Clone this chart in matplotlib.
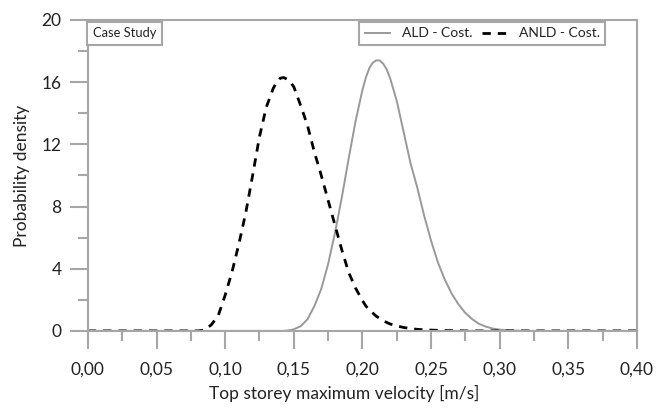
import numpy as np
import matplotlib.pyplot as plt
from matplotlib.ticker import MultipleLocator, FuncFormatter

plt.rcParams['font.family'] = ['Lato', 'DejaVu Sans']

# velocity grid [m/s] and density values for both designs
velocity = [0.000, 0.050, 0.080, 0.085, 0.090, 0.095, 0.100, 0.105, 0.110, 0.115,
            0.120, 0.125, 0.130, 0.135, 0.1375, 0.140, 0.1425, 0.145, 0.1475, 0.150,
            0.155, 0.160, 0.165, 0.170, 0.175, 0.180, 0.185, 0.190, 0.195, 0.200,
            0.2025, 0.205, 0.2075, 0.210, 0.2125, 0.215, 0.2175, 0.220, 0.225, 0.230,
            0.235, 0.240, 0.245, 0.250, 0.255, 0.260, 0.265, 0.270, 0.275, 0.280,
            0.285, 0.290, 0.295, 0.300, 0.310, 0.320, 0.350, 0.400]

ald_cost = [0.0, 0.0, 0.0, 0.0, 0.0, 0.0, 0.0, 0.0, 0.0, 0.0,
            0.0, 0.0, 0.0, 0.0, 0.0, 0.0, 0.0, 0.02, 0.05, 0.1,
            0.3, 0.75, 1.6, 2.7, 4.3, 6.3, 8.6, 11.1, 13.5, 15.5,
            16.3, 16.9, 17.25, 17.4, 17.4, 17.2, 16.85, 16.3, 14.8, 12.8,
            10.8, 9.2, 7.4, 5.8, 4.4, 3.3, 2.4, 1.7, 1.15, 0.75,
            0.45, 0.27, 0.15, 0.08, 0.02, 0.0, 0.0, 0.0]

anld_cost = [0.0, 0.0, 0.0, 0.05, 0.4, 1.0, 2.3, 3.8, 5.6, 7.6,
             10.0, 12.5, 14.4, 15.6, 16.0, 16.25, 16.3, 16.2, 16.0, 15.7,
             14.5, 13.2, 11.5, 10.0, 8.4, 6.8, 5.2, 3.75, 2.75, 1.95,
             1.6, 1.35, 1.15, 0.95, 0.8, 0.65, 0.55, 0.45, 0.32, 0.22,
             0.15, 0.1, 0.07, 0.05, 0.035, 0.02, 0.015, 0.01, 0.0, 0.0,
             0.0, 0.0, 0.0, 0.0, 0.0, 0.0, 0.0, 0.0]

grey = '#a6a6a6'
ink = '#222222'

fig = plt.figure(figsize=(6.56, 4.08), dpi=100)
ax = fig.add_axes([0.134, 0.189, 0.837, 0.762])

ax.plot(velocity, ald_cost, color='#999999', lw=1.4, label='ALD - Cost.')
ax.plot(velocity, anld_cost, color='black', lw=2.0, dashes=(3, 2.5),
        label='ANLD - Cost.')

ax.set_xlim(0, 0.40)
ax.set_ylim(0, 20)
ax.xaxis.set_major_locator(MultipleLocator(0.05))
ax.xaxis.set_minor_locator(MultipleLocator(0.025))
ax.yaxis.set_major_locator(MultipleLocator(4))
ax.yaxis.set_minor_locator(MultipleLocator(2))
ax.xaxis.set_major_formatter(FuncFormatter(lambda v, p: f'{v:.2f}'.replace('.', ',')))
ax.yaxis.set_major_formatter(FuncFormatter(lambda v, p: f'{v:.0f}'))

for s in ax.spines.values():
    s.set_color(grey)
    s.set_linewidth(1.5)

ax.tick_params(which='major', direction='out', length=13, width=1.5,
               color=grey, labelsize=12.5, labelcolor=ink)
ax.tick_params(axis='x', which='major', pad=9)
ax.tick_params(axis='y', which='major', pad=6)
ax.tick_params(which='minor', direction='out', length=7, width=1.5, color=grey)

ax.set_xlabel('Top storey maximum velocity [m/s]', fontsize=12.5, color=ink)
ax.xaxis.set_label_coords(0.467, -0.175)
ax.set_ylabel('Probability density', fontsize=12.5, color=ink)
ax.yaxis.set_label_coords(-0.105, 0.5)

ax.text(0.009, 0.977, 'Case Study', transform=ax.transAxes, fontsize=9.3,
        va='top', ha='left', color=ink,
        bbox=dict(boxstyle='square,pad=0.42', fc='white', ec=grey, lw=1.5))

leg = ax.legend(loc='upper right', bbox_to_anchor=(0.942, 0.994), ncol=2,
                fontsize=10, frameon=True, fancybox=False, framealpha=1,
                edgecolor=grey, handlelength=1.85, columnspacing=0.7,
                borderpad=0.4, handletextpad=0.8, borderaxespad=0)
leg.get_frame().set_linewidth(1.5)
for t in leg.get_texts():
    t.set_color(ink)

fig.savefig('out.png', dpi=100)
